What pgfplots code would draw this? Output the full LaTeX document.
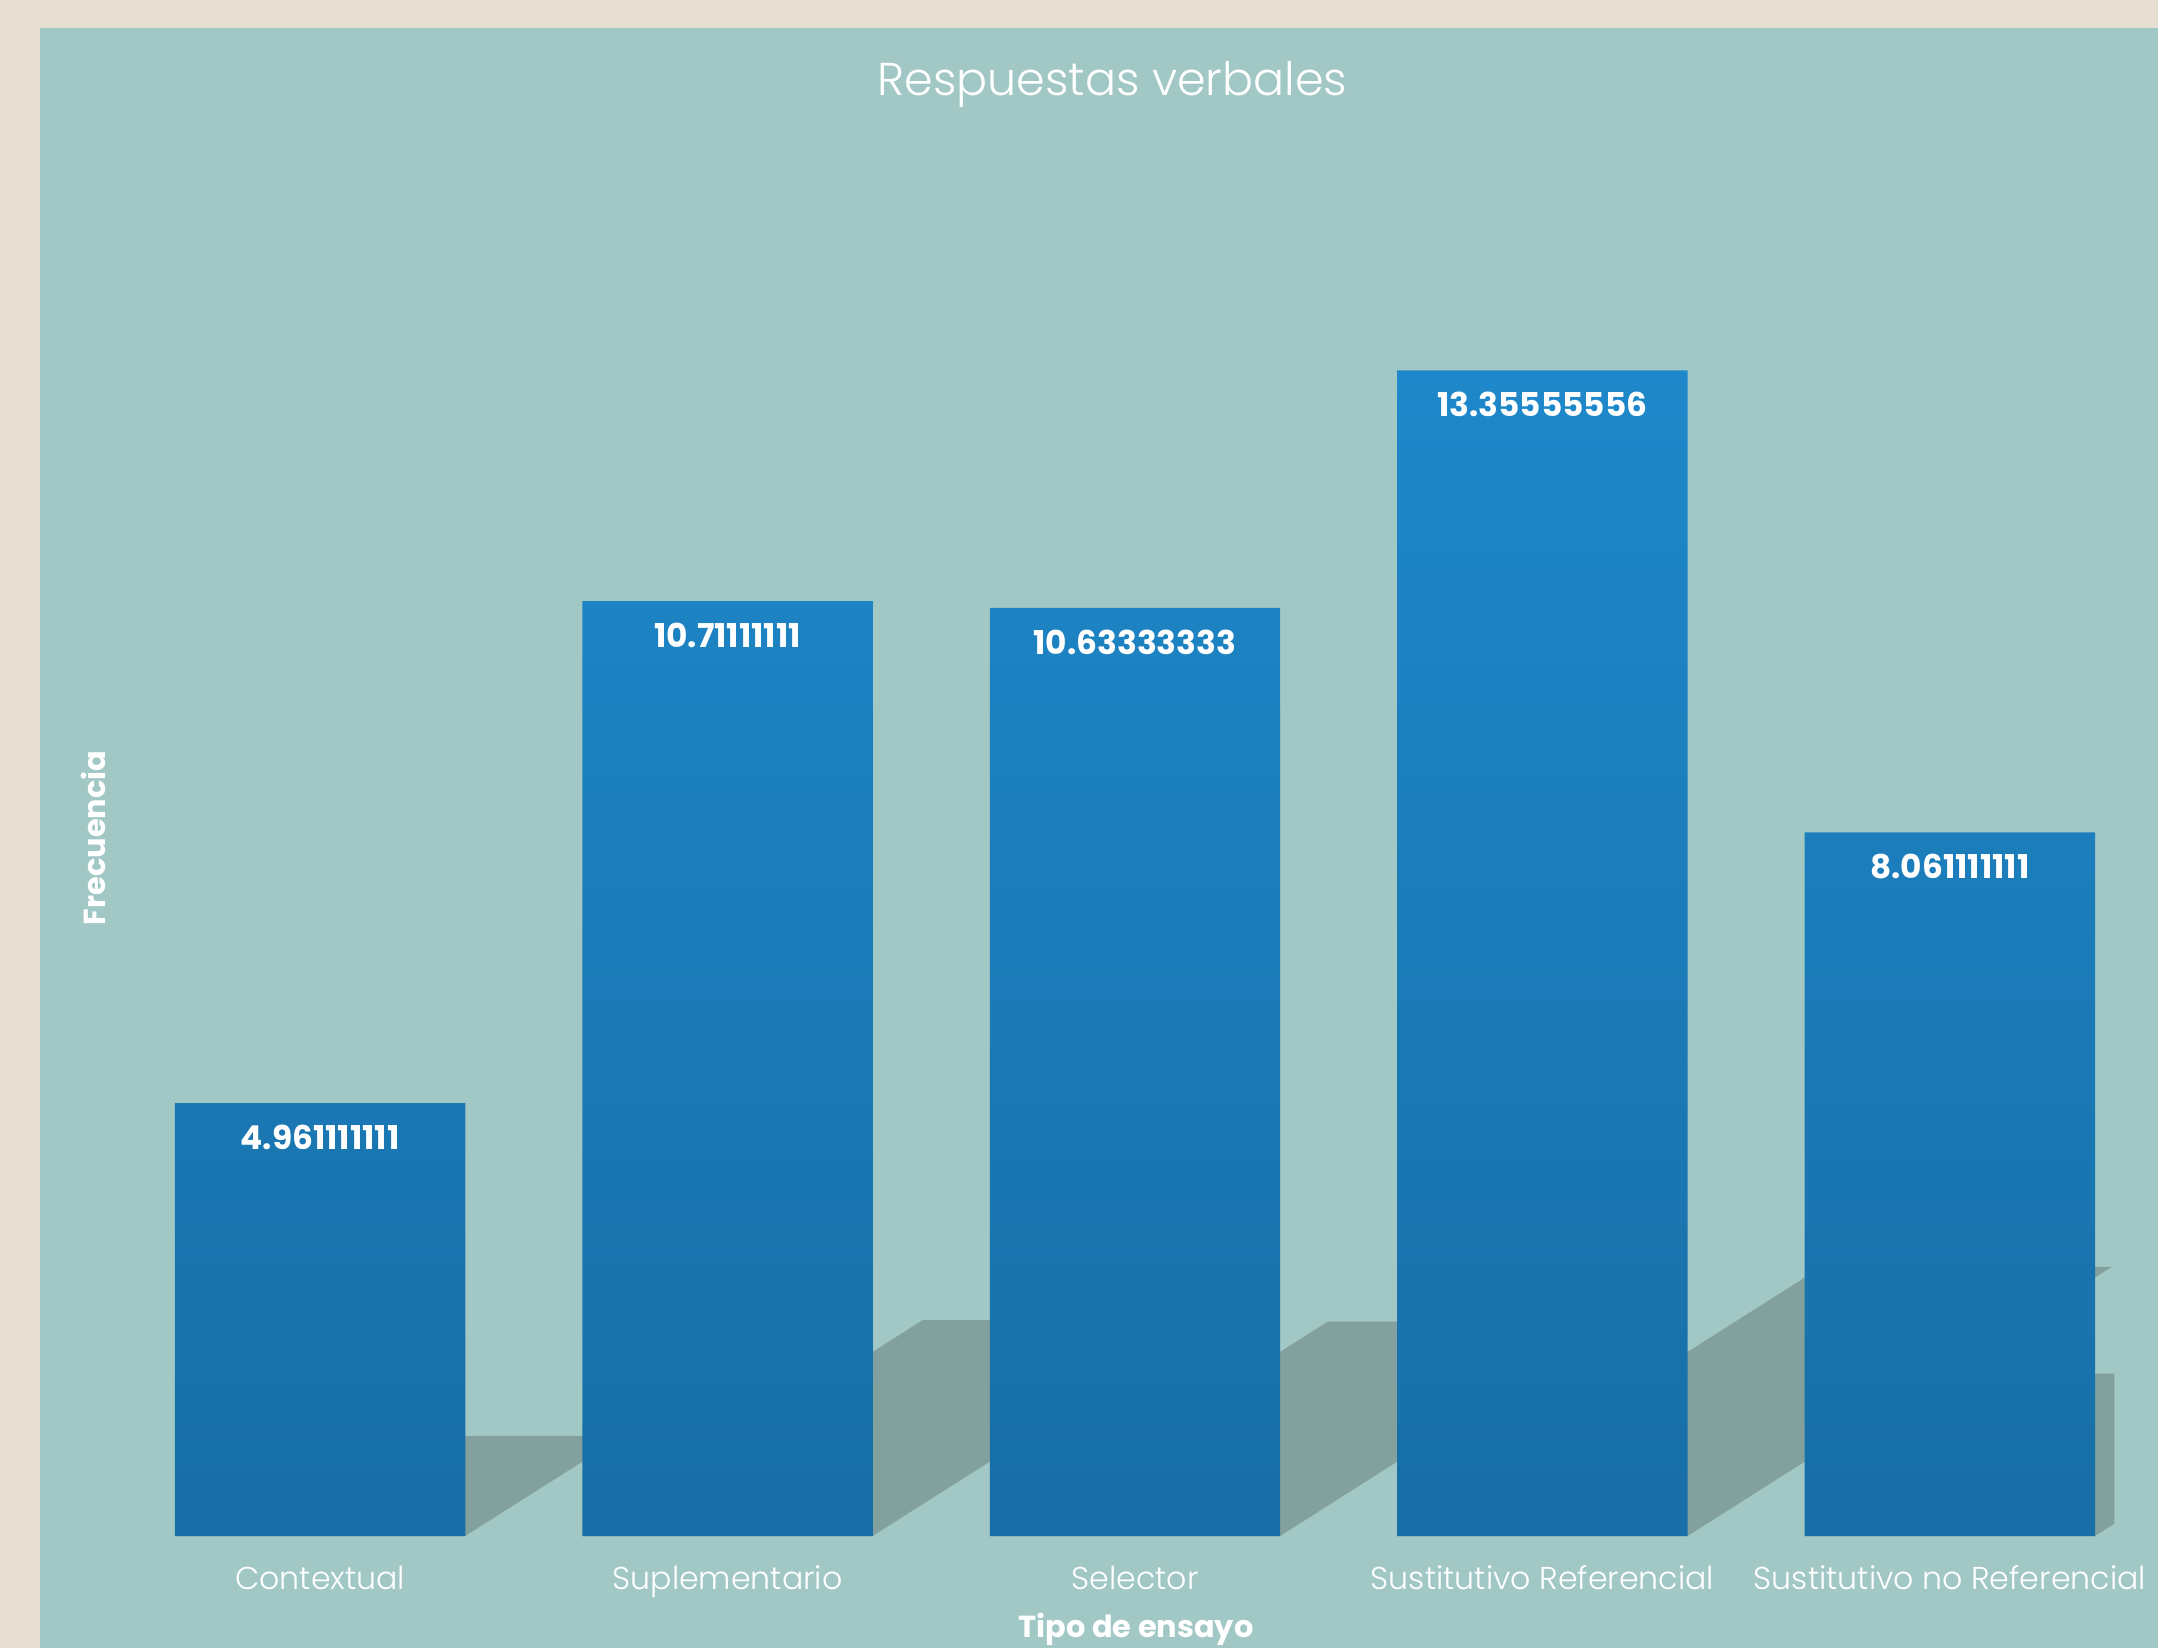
\documentclass[border=0pt]{standalone}
\usepackage{fontspec}
\setmainfont{Poppins}
\newfontfamily\poplight{Poppins Light}
\usepackage{pgfplots}
\pgfplotsset{compat=1.18}

\definecolor{beige}{HTML}{E6DED3}
\definecolor{teal}{HTML}{A2C8C6}
\definecolor{shadowc}{HTML}{81A09E}
\definecolor{bartop}{HTML}{1E88CA}
\definecolor{barbot}{HTML}{186EA6}

\begin{document}
\begin{tikzpicture}
  \useasboundingbox (0,0) rectangle (539.5pt,412pt);
  % page background
  \fill[beige] (0,0) rectangle (539.5pt,412pt);
  \fill[teal] (10pt,0) rectangle (539.5pt,405pt);
  \begin{axis}[
    at={(29.1pt,28pt)}, anchor=south west,
    scale only axis,
    width=499.5pt, height=349.1pt,
    xmin=-0.5, xmax=4.404,
    ymin=0, ymax=16,
    axis line style={draw=none},
    tick style={draw=none},
    ytick=\empty,
    xtick={0,1,2,3,4},
    xticklabels={Contextual, Suplementario, Selector, Sustitutivo Referencial, Sustitutivo no Referencial},
    xticklabel style={text=white, font=\poplight\fontsize{7.9}{9}\selectfont, anchor=base, yshift=-13.4pt},
    xlabel={Tipo de ensayo},
    xlabel style={at={(rel axis cs:0.5104,0)}, anchor=center, yshift=-23.3pt, text=white, font=\bfseries\fontsize{7.6}{9}\selectfont},
    ylabel={Frecuencia},
    ylabel style={at={(rel axis cs:0,0.5)}, anchor=center, yshift=5.7pt, text=white, font=\bfseries\fontsize{7.6}{9}\selectfont},
    title={Respuestas verbales},
    title style={at={(rel axis cs:0.4985,1.022)}, anchor=center, text=white, font=\poplight\fontsize{11.5}{13}\selectfont},
  ]
    % cast shadows behind the bars (sheared copies of each bar)
    \addplot[fill=shadowc, draw=none] coordinates {(-0.356,0) (0.356,0) (0.743,1.146) (0.031,1.146)} -- cycle;
    \addplot[fill=shadowc, draw=none] coordinates {(0.644,0) (1.356,0) (2.191,2.474) (1.479,2.474)} -- cycle;
    \addplot[fill=shadowc, draw=none] coordinates {(1.644,0) (2.356,0) (3.185,2.456) (2.473,2.456)} -- cycle;
    \addplot[fill=shadowc, draw=none] coordinates {(2.644,0) (3.356,0) (4.398,3.085) (3.686,3.085)} -- cycle;
    \addplot[fill=shadowc, draw=none] coordinates {(3.644,0) (4.356,0) (4.985,1.862) (4.273,1.862)} -- cycle;
    % bars
    \addplot[ybar, bar width=72.6pt, draw=none, top color=bartop, bottom color=barbot,
      nodes near coords, point meta=explicit symbolic,
      nodes near coords style={anchor=center, yshift=-8.6pt, text=white, font=\bfseries\fontsize{8.2}{9}\selectfont}]
      coordinates {
        (0,4.961111111) [4.961111111]
        (1,10.71111111) [10.71111111]
        (2,10.63333333) [10.63333333]
        (3,13.35555556) [13.35555556]
        (4,8.061111111) [8.061111111]
      };
  \end{axis}
\end{tikzpicture}
\end{document}
